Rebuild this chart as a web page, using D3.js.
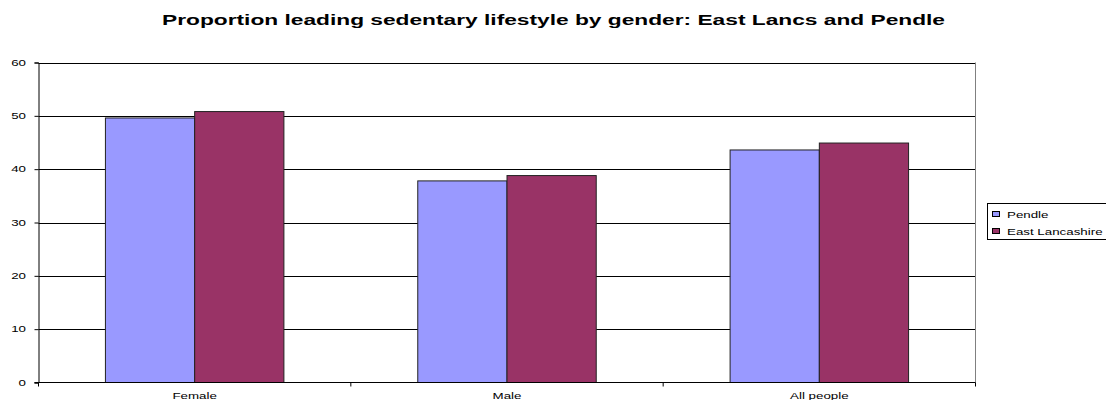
<!DOCTYPE html>
<html><head><meta charset="utf-8">
<script src="https://cdn.jsdelivr.net/npm/d3@7"></script>
<style>body{margin:0;background:#fff;} svg{display:block;font-family:"Liberation Sans",Arial,sans-serif;}</style>
</head><body>
<svg id="c" width="1106" height="400"></svg>
<script>
const categories = ["Female", "Male", "All people"];
const seriesNames = ["Pendle", "East Lancashire"];
const pendle = [49.6, 37.8, 43.6];
const eastLancs = [50.8, 38.8, 44.9];
const yTicks = [0, 10, 20, 30, 40, 50, 60];
const colors = ["#9999FF", "#993366"];
const title = "Proportion leading sedentary lifestyle by gender: East Lancs and Pendle";

const SX = 1.57; // horizontal stretch of text in the original
const svg = d3.select("#c");
const m = {left: 38.5, right: 975.5, top: 62.5, bottom: 382.5};

const x = d3.scaleBand().domain(categories).range([m.left, m.right]).paddingInner(0).paddingOuter(0);
const y = d3.scaleLinear().domain([0, 60]).range([m.bottom, m.top]);
const series = [pendle, eastLancs];

function stretchedText(g, tx, ty, str, size, anchor, weight) {
  return g.append("text")
    .attr("transform", `translate(${tx},${ty}) scale(${SX},1)`)
    .attr("text-anchor", anchor || "start")
    .attr("font-size", size).attr("font-weight", weight || "normal")
    .attr("fill", "#000").text(str);
}

// gridlines
svg.append("g").selectAll("line").data(yTicks.filter(d => d > 0)).join("line")
  .attr("x1", m.left).attr("x2", m.right)
  .attr("y1", d => Math.round(y(d)) + 0.5).attr("y2", d => Math.round(y(d)) + 0.5)
  .attr("stroke", "#000").attr("stroke-width", 1);
// right border
svg.append("line").attr("x1", m.right).attr("x2", m.right).attr("y1", m.top).attr("y2", m.bottom)
  .attr("stroke", "#808080");

// bars: gap width 150%
const bw = x.bandwidth() / 3.5;
series.forEach((vals, si) => {
  svg.append("g").selectAll("rect").data(categories).join("rect")
    .attr("x", c => x(c) + bw * 0.75 + si * bw)
    .attr("y", (c, i) => y(vals[i]))
    .attr("width", bw)
    .attr("height", (c, i) => y(0) - y(vals[i]))
    .attr("fill", colors[si])
    .attr("stroke", "#222").attr("stroke-width", 1);
});

// y axis
const ya = svg.append("g").attr("transform", `translate(${m.left},0)`)
  .call(d3.axisLeft(y).tickValues(yTicks).tickSize(4).tickFormat(""));
ya.select(".domain").attr("stroke", "#000");
yTicks.forEach(t => stretchedText(svg, 26, y(t) + 3, String(t), 8.5, "end"));

// x axis
const xa = svg.append("g").attr("transform", `translate(0,${m.bottom})`);
xa.append("line").attr("x1", m.left - 4).attr("x2", m.right).attr("y1", 0).attr("y2", 0).attr("stroke", "#000");
const bounds = categories.map(c => x(c)).concat([m.right]);
xa.selectAll("line.t").data(bounds).join("line").attr("class", "t")
  .attr("x1", d => d).attr("x2", d => d).attr("y1", 0).attr("y2", 4).attr("stroke", "#000");
categories.forEach(c => stretchedText(svg, x(c) + x.bandwidth() / 2, 398.5, c, 8.5, "middle"));

// title
svg.append("text").attr("x", 553.5).attr("y", 25).attr("text-anchor", "middle")
  .attr("font-size", 14).attr("font-weight", "bold").attr("fill", "#000")
  .attr("textLength", 783).attr("lengthAdjust", "spacingAndGlyphs").text(title);

// legend
const lg = svg.append("g");
lg.append("rect").attr("x", 987.5).attr("y", 203.5).attr("width", 130).attr("height", 36)
  .attr("fill", "#fff").attr("stroke", "#000");
seriesNames.forEach((n, i) => {
  lg.append("rect").attr("x", 992.5).attr("y", 211.5 + i * 17).attr("width", 7).attr("height", 5)
    .attr("fill", colors[i]).attr("stroke", "#000");
  stretchedText(lg, 1007, 218 + i * 17, n, 8.5, "start");
});
</script>
</body></html>
